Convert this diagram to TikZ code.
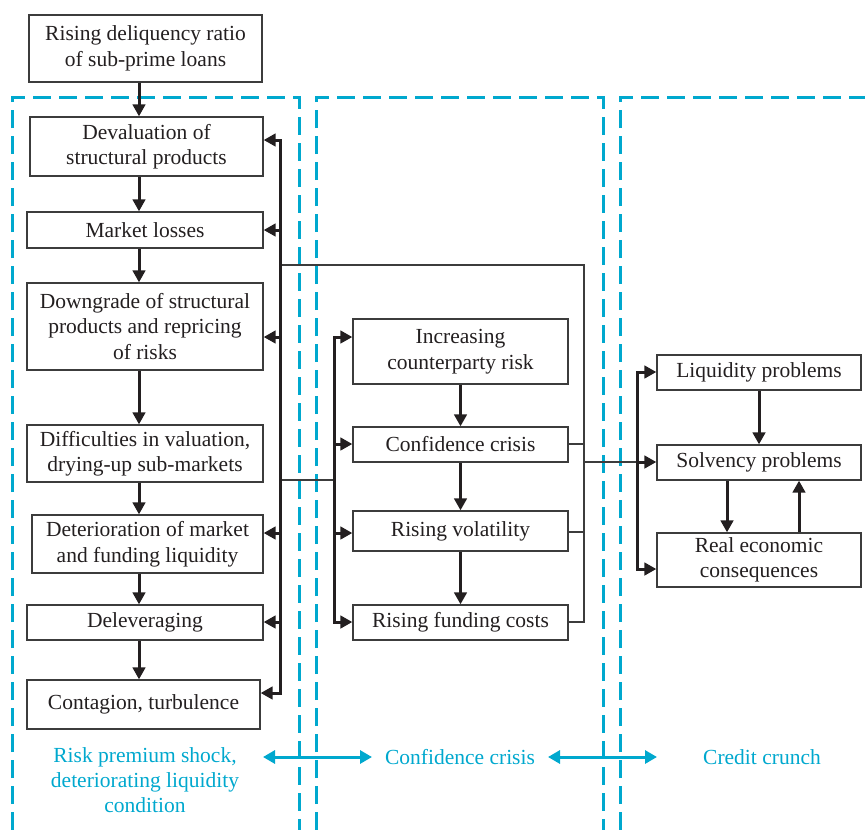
\documentclass[tikz,border=0pt]{standalone}
\usepackage{fontspec}
\setmainfont{Liberation Serif}
\usetikzlibrary{arrows.meta}
\definecolor{panelcyan}{RGB}{0,168,206}
\definecolor{boxgray}{RGB}{60,60,60}
\definecolor{ink}{RGB}{35,31,32}
\begin{document}
\begin{tikzpicture}[x=1pt,y=-1pt,
  box/.style={draw=boxgray, line width=1.3pt, inner sep=0pt, align=center, text=ink, font=\fontsize{21.5}{25.5}\selectfont},
  flow/.style={draw=ink, line width=3pt, -{Triangle[length=12pt,width=12.5pt]}},
  bus/.style={draw=ink, line width=3pt, line cap=rect},
  thinline/.style={draw=boxgray, line width=1.2pt},
  panel/.style={draw=panelcyan, line width=3pt, dash pattern=on 18pt off 8pt},
  tag/.style={text=panelcyan, align=center, inner sep=0pt, font=\fontsize{21.5}{25}\selectfont},
  link/.style={draw=panelcyan, line width=3pt, {Triangle[length=12pt,width=13pt]}-{Triangle[length=12pt,width=13pt]}}
]
\useasboundingbox (0,0) rectangle (865,830);
% panels
\draw[panel] (12,830) -- (12,97) -- (299,97) -- (299,830);
\draw[panel] (316,830) -- (316,97) -- (603,97) -- (603,830);
\draw[panel] (620,830) -- (620,97) -- (865,97);

% left column
\node[box, minimum width=233pt, minimum height=67pt] (r0) at (145.5,48.5) {Rising deliquency ratio\\of sub-prime loans};
\node[box, minimum width=233pt, minimum height=59pt] (d1) at (146.5,146.5) {Devaluation of\\structural products};
\node[box, minimum width=236pt, minimum height=36pt] (d2) at (145,230) {Market losses};
\node[box, minimum width=236pt, minimum height=87pt] (d3) at (145,326.5) {Downgrade of structural\\products and repricing\\of risks};
\node[box, minimum width=236pt, minimum height=57pt] (d4) at (145,453.5) {Difficulties in valuation,\\drying-up sub-markets};
\node[box, minimum width=231pt, minimum height=58pt] (d5) at (147.5,544) {Deterioration of market\\and funding liquidity};
\node[box, minimum width=236pt, minimum height=35pt] (d6) at (145,622.5) {Deleveraging};
\node[box, minimum width=233pt, minimum height=49pt] (d7) at (143.5,704.5) {Contagion, turbulence};

% middle column
\node[box, minimum width=215pt, minimum height=65pt] (m1) at (460.5,351.5) {Increasing\\counterparty risk};
\node[box, minimum width=215pt, minimum height=35pt] (m2) at (460.5,444.5) {Confidence crisis};
\node[box, minimum width=215pt, minimum height=40pt] (m3) at (460.5,531) {Rising volatility};
\node[box, minimum width=215pt, minimum height=35pt] (m4) at (460.5,622.5) {Rising funding costs};

% right column
\node[box, minimum width=204pt, minimum height=35pt] (q1) at (759,372.5) {Liquidity problems};
\node[box, minimum width=204pt, minimum height=35pt] (q2) at (759,462.5) {Solvency problems};
\node[box, minimum width=204pt, minimum height=54pt] (q3) at (759,560) {Real economic\\consequences};

% left vertical flow
\coordinate (ax) at (139,0);
\draw[flow] (r0.south -| ax) -- (d1.north -| ax);
\draw[flow] (d1.south -| ax) -- (d2.north -| ax);
\draw[flow] (d2.south -| ax) -- (d3.north -| ax);
\draw[flow] (d3.south -| ax) -- (d4.north -| ax);
\draw[flow] (d4.south -| ax) -- (d5.north -| ax);
\draw[flow] (d5.south -| ax) -- (d6.north -| ax);
\draw[flow] (d6.south -| ax) -- (d7.north -| ax);

% thin links
\coordinate (lt1) at (280,265);
\coordinate (rc1) at (584,265);
\coordinate (rc2) at (584,444);
\coordinate (rc3) at (584,532);
\coordinate (rc4) at (584,622);
\coordinate (rcs) at (584,462);
\coordinate (lt2) at (280,480);
\coordinate (mbx) at (334,480);
\draw[thinline] (lt1) -- (rc1) -- (rc4) -- (rc4 -| m4.east);
\draw[thinline] (rc2) -- (rc2 -| m2.east);
\draw[thinline] (rc3) -- (rc3 -| m3.east);
\draw[thinline] (lt2) -- (mbx);

% left bus
\coordinate (lb1) at (280,140);
\coordinate (lb2) at (280,230);
\coordinate (lb3) at (280,337);
\coordinate (lb5) at (280,533);
\coordinate (lb6) at (280,622);
\coordinate (lb7) at (280,693);
\draw[bus] (lb1) -- (lb7);
\draw[flow] (lb1) -- (lb1 -| d1.east);
\draw[flow] (lb2) -- (lb2 -| d2.east);
\draw[flow] (lb3) -- (lb3 -| d3.east);
\draw[flow] (lb5) -- (lb5 -| d5.east);
\draw[flow] (lb6) -- (lb6 -| d6.east);
\draw[flow] (lb7) -- (lb7 -| d7.east);

% middle bus
\coordinate (mb1) at (334,337);
\coordinate (mb2) at (334,444);
\coordinate (mb3) at (334,533);
\coordinate (mb4) at (334,622);
\draw[bus] (mb1) -- (mb4);
\draw[flow] (mb1) -- (mb1 -| m1.west);
\draw[flow] (mb2) -- (mb2 -| m2.west);
\draw[flow] (mb3) -- (mb3 -| m3.west);
\draw[flow] (mb4) -- (mb4 -| m4.west);
\draw[flow] (m1) -- (m2);
\draw[flow] (m2) -- (m3);
\draw[flow] (m3) -- (m4);

% right bus
\coordinate (rb1) at (637,372);
\coordinate (rb2) at (637,462);
\coordinate (rb3) at (637,569);
\draw[thinline] (rcs) -- (rb2);
\draw[bus] (rb1) -- (rb3);
\draw[flow] (rb1) -- (rb1 -| q1.west);
\draw[flow] (rb2) -- (rb2 -| q2.west);
\draw[flow] (rb3) -- (rb3 -| q3.west);
\draw[flow] (q1) -- (q2);
\draw[flow] ([xshift=-32pt]q2.south) -- ([xshift=-32pt]q3.north);
\draw[flow] ([xshift=40pt]q3.north) -- ([xshift=40pt]q2.south);

% bottom tags
\node[tag] (t1) at (145,780) {Risk premium shock,\\deteriorating liquidity\\condition};
\node[tag] (t2) at (460,757) {Confidence crisis};
\node[tag] (t3) at (762,757) {Credit crunch};
\coordinate (la) at (263,757);
\coordinate (lb) at (372,757);
\coordinate (lc) at (548,757);
\coordinate (ld) at (657,757);
\draw[link] (la) -- (lb);
\draw[link] (lc) -- (ld);
\end{tikzpicture}
\end{document}
